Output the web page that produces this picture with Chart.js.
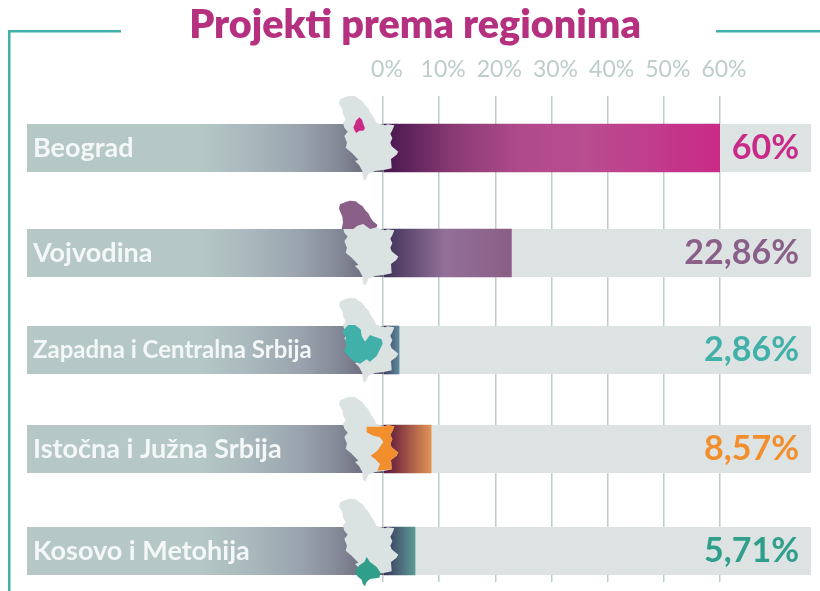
<!DOCTYPE html>
<html><head><meta charset="utf-8">
<style>html,body{margin:0;padding:0;background:#fff}canvas{display:block}</style>
<script src="https://cdn.jsdelivr.net/npm/chart.js@4"></script></head>
<body><canvas id="c" width="820" height="591"></canvas>
<script>
const regions=["Beograd","Vojvodina","Zapadna i Centralna Srbija","Istočna i Južna Srbija","Kosovo i Metohija"];
const shares=[60,22.86,2.86,8.57,5.71];
const shareLabels=["60%","22,86%","2,86%","8,57%","5,71%"];
const titleText="Projekti prema regionima";
const rowCentres=[148,253,350,449,551];
const labelColours=["#c92a87","#8a5f88","#41b0a9","#f28e2c","#2f9e8a"];
const barStops=[
 [[0,"#45184f"],[.03,"#4f1b53"],[.21,"#8a3a74"],[.41,"#b04a8c"],[.6,"#b84d90"],[1,"#c92a87"]],
 [[0,"#3a3055"],[.07,"#4a3a60"],[.48,"#927098"],[1,"#8a5e86"]],
 [[0,"#3f3a5c"],[1,"#5d8a9e"]],
 [[0,"#521b45"],[.25,"#7a2f3f"],[1,"#e19455"]],
 [[0,"#38335a"],[1,"#5b9b94"]]
];
const leftStops=[[0,"#b5c8c6"],[.48,"#b5c8c6"],[.63,"#a9b8bc"],[.77,"#9aa3ad"],[.88,"#828795"],[.97,"#686679"],[1,"#5e5870"]];
const outline=[[77,144],[90,140],[107,142],[117,150],[127,156],[137,170],[145,178],[152,192],[159,202],[165,212],[169,221],[183,226],[195,229],[203,226],[223,229],[217,244],[211,254],[217,268],[211,281],[215,292],[235,308],[229,318],[213,330],[215,358],[195,362],[165,366],[145,374],[137,394],[129,390],[127,366],[117,348],[105,336],[115,332],[95,311],[77,296],[81,281],[73,261],[83,248],[73,236],[69,221],[77,211],[69,196],[67,181],[57,164],[60,151]];
const overlays=[
 [[118,205],[126,212],[130,225],[135,238],[130,245],[118,245],[110,252],[104,245],[100,235],[105,225],[108,215]],
 [[77,144],[90,140],[107,142],[117,150],[127,156],[137,170],[145,178],[152,192],[159,202],[172,212],[170,220],[150,225],[130,210],[112,215],[100,225],[65,225],[69,205],[67,188],[57,164],[60,151]],
 [[85,222],[105,222],[122,235],[125,255],[135,272],[150,252],[185,265],[188,278],[170,315],[150,332],[140,325],[120,338],[100,330],[85,315],[72,300],[80,285],[75,270],[78,260],[68,245],[72,235]],
 [[140,230],[170,230],[195,229],[203,226],[223,229],[217,244],[211,254],[217,268],[211,281],[215,292],[235,308],[229,318],[213,330],[215,358],[172,362],[180,342],[165,327],[152,317],[172,302],[190,276],[180,262],[160,257],[140,247]],
 [[140,315],[150,330],[170,345],[182,363],[178,377],[150,381],[140,390],[135,403],[128,395],[125,383],[112,373],[105,360],[118,340],[133,330]]
];
const fontFam="Lato, 'Noto Sans', sans-serif";
function poly(ctx,pts,col){ctx.beginPath();pts.forEach((p,i)=>i?ctx.lineTo(p[0],p[1]):ctx.moveTo(p[0],p[1]));ctx.closePath();ctx.fillStyle=col;ctx.fill();}
function grad(ctx,x0,x1,stops){const g=ctx.createLinearGradient(x0,0,x1,0);stops.forEach(s=>g.addColorStop(s[0],s[1]));return g;}
const decor={id:"decor",
 beforeDraw(ch){const c=ch.ctx;c.save();c.fillStyle="#41b0a9";
  c.fillRect(8,30,113,2.5);c.fillRect(8,30,2.5,561);c.fillRect(716,30,104,2.5);c.restore();},
 beforeDatasetsDraw(ch){const c=ch.ctx,x=ch.scales.x,m=ch.getDatasetMeta(0),x0=x.getPixelForValue(0);c.save();
  m.data.forEach(b=>{const t=b.y-24;
   c.fillStyle="#dde3e3";c.fillRect(x0,t,811-x0,48);
   c.fillStyle=grad(c,27,x0,leftStops);c.fillRect(27,t,x0-27,48);});c.restore();},
 afterDatasetsDraw(ch){const c=ch.ctx,m=ch.getDatasetMeta(0);
  m.data.forEach((b,i)=>{c.save();c.translate(320,b.y-24-28-47);c.scale(1/3,1/3);
   poly(c,outline,"#dbe3e2");poly(c,overlays[i],labelColours[i]);c.restore();});}
};
new Chart(document.getElementById("c"),{type:"bar",plugins:[decor],
 data:{datasets:[{data:shares.map((v,i)=>({x:v,y:rowCentres[i]})),barThickness:48,borderWidth:0,
  backgroundColor(ctx){const ch=ctx.chart,i=ctx.dataIndex;if(i===undefined||!ch.chartArea)return "#888";
   const x=ch.scales.x;return grad(ch.ctx,x.getPixelForValue(0),x.getPixelForValue(shares[i]),barStops[i]);}}]},
 options:{indexAxis:"y",responsive:false,animation:false,devicePixelRatio:1,
  layout:{autoPadding:false,padding:{left:33,right:23,top:0,bottom:9}},
  plugins:{legend:{display:false},tooltip:{enabled:false},
   title:{display:true,text:titleText,color:"#b5317f",font:{family:fontFam,size:39.5,weight:"800",lineHeight:1.2},padding:{top:2,bottom:0}}},
  scales:{
   x:{type:"linear",position:"top",min:0,max:60,
    afterFit(s){s.height=46.6;s.paddingLeft=s.paddingRight=0;},
    grid:{color:"#bccdcb",lineWidth:1.5,drawTicks:false},border:{display:false},
    ticks:{stepSize:10,padding:13,labelOffset:4,maxRotation:0,color:"#bccdcb",font:{family:fontFam,size:23},callback:v=>v+"%"}},
   y:{type:"linear",position:"left",reverse:true,min:96,max:582,offset:false,
    afterFit(s){s.width=350;s.paddingTop=s.paddingBottom=0;},
    afterBuildTicks(s){s.ticks=rowCentres.map(v=>({value:v}));},
    grid:{display:false,drawTicks:false,offset:false},border:{display:false},
    ticks:{autoSkip:false,padding:0,crossAlign:"far",color:"#f4f7f7",z:1,font:c=>({family:fontFam,size:c.index===2?24:27,weight:"700"}),callback:(v,i)=>regions[i]}},
   r:{type:"linear",position:"right",reverse:true,min:96,max:582,offset:false,
    afterFit(s){s.width=77;s.paddingTop=s.paddingBottom=0;},
    afterBuildTicks(s){s.ticks=rowCentres.map(v=>({value:v}));},
    grid:{display:false,drawTicks:false},border:{display:false},
    ticks:{autoSkip:false,mirror:true,padding:79,z:1,color:c=>labelColours[c.index],font:{family:fontFam,size:34,weight:"700"},callback:(v,i)=>shareLabels[i]}}
  }}});
</script></body></html>
